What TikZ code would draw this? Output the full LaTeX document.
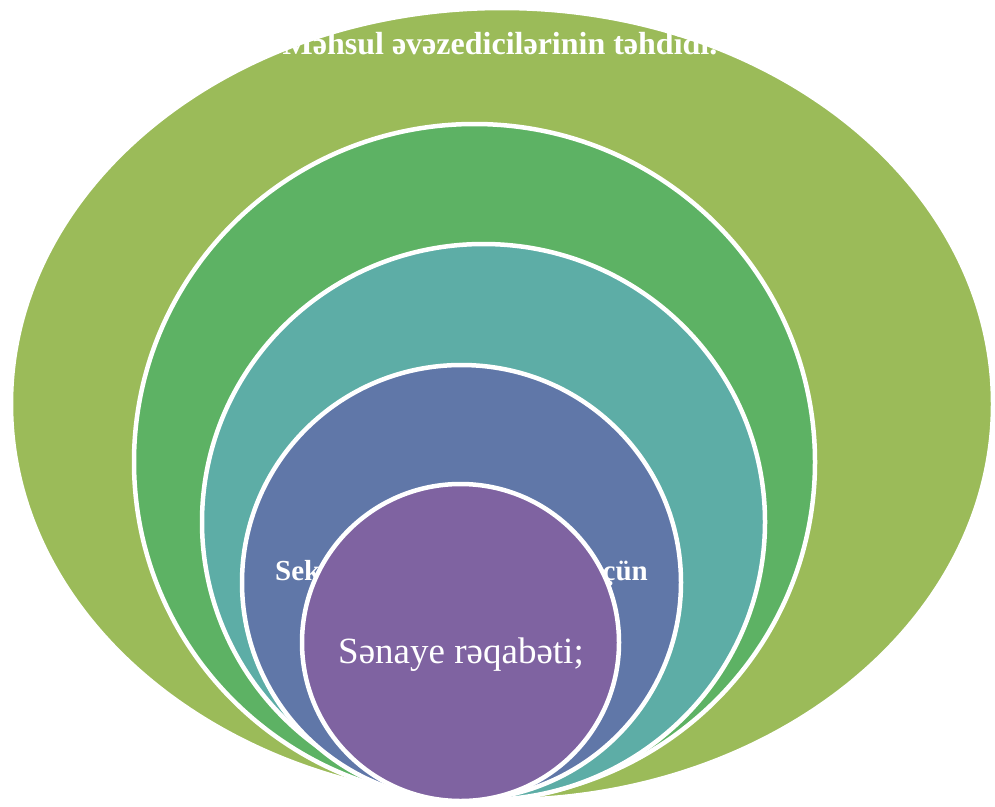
\documentclass[tikz,border=0pt]{standalone}
\usepackage{fontspec}
\setmainfont{Liberation Serif}
\definecolor{leaf}{HTML}{9BBB59}
\definecolor{grass}{HTML}{5DB264}
\definecolor{lagoon}{HTML}{5DADA6}
\definecolor{slate}{HTML}{6077A8}
\definecolor{plumring}{HTML}{7F63A1}
\newcommand{\topfont}{\fontsize{32}{38}\selectfont\bfseries}
\newcommand{\ringfont}{\fontsize{29}{34}\selectfont\bfseries}
\newcommand{\corefont}{\fontsize{37}{44}\selectfont}
\tikzset{ring/.style={draw=white,line width=4.5pt}}

\begin{document}
\begin{tikzpicture}[x=1pt,y=-1pt]
\useasboundingbox (0,0) rectangle (995,806);
\filldraw[ring,fill=leaf] (502,404) ellipse [x radius=491,y radius=396];
\node[anchor=base,inner sep=0,text=white,font=\topfont] (threat) at (500,54) {Məhsul əvəzedicilərinin təhdidi.};
\filldraw[ring,fill=grass] (474.5,462) ellipse [x radius=340.5,y radius=338];
\filldraw[ring,fill=lagoon] (483.5,522) ellipse [x radius=281.5,y radius=278];
\filldraw[ring,fill=slate] (461.5,582.5) ellipse [x radius=219.5,y radius=217.5];
\node[anchor=base west,inner sep=0,text=white,font=\ringfont] (entryl) at (275,580) {Sek};
\node[anchor=base east,inner sep=0,text=white,font=\ringfont] (entryr) at (648,580) {çün};
\filldraw[ring,fill=plumring] (460.5,642.5) ellipse [x radius=158.5,y radius=158.5];
\node[anchor=base,inner sep=0,text=white,font=\corefont] (rivalry) at (461,663) {Sənaye rəqabəti;};
\end{tikzpicture}
\end{document}
